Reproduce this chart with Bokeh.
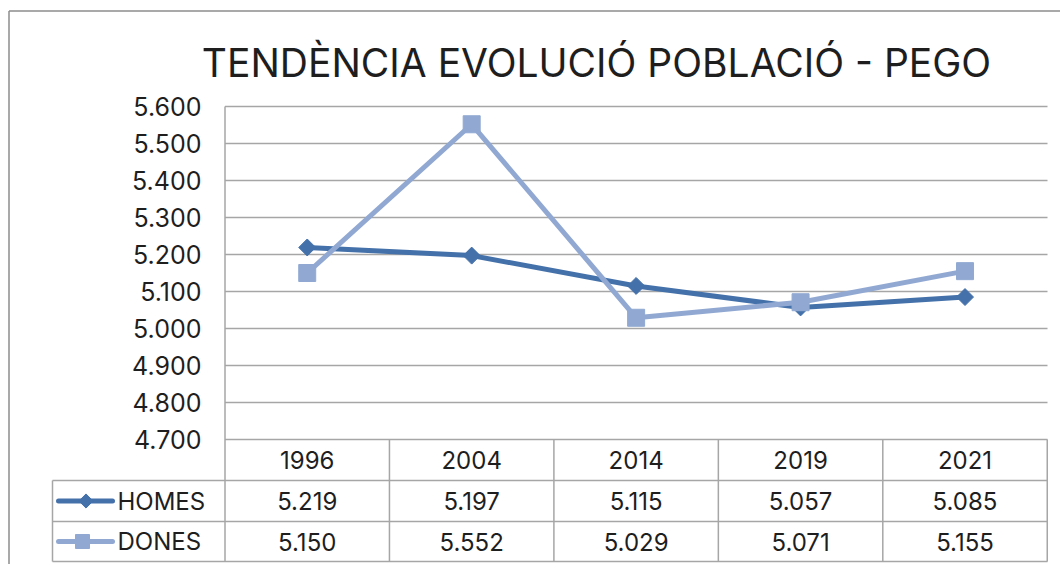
import math
from bokeh.plotting import figure
from bokeh.models import Range1d
from bokeh.core.properties import value
from bokeh.embed import file_html
from bokeh.resources import INLINE

# ---------------- data ----------------
title_text = "TENDÈNCIA EVOLUCIÓ POBLACIÓ - PEGO"
years = ["1996", "2004", "2014", "2019", "2021"]
homes = [5219, 5197, 5115, 5057, 5085]
dones = [5150, 5552, 5029, 5071, 5155]
series_names = ["HOMES", "DONES"]
y_ticks = [4700, 4800, 4900, 5000, 5100, 5200, 5300, 5400, 5500, 5600]

# ---------------- layout constants (picture pixels) ----------------
W, H = 1060, 564
PX0, PY0 = 0, 0
AXIS_X = 224.5
COL_W = 164.45
Y_BASE, Y_TOP = 4700, 5600
PY_BASE, PY_TOP = 439, 106
SCALE = (PY_BASE - PY_TOP) / (Y_TOP - Y_BASE)
ROW_LINES = [480, 521, 561]
LEG_LEFT = 52

C_HOMES = "#4471AA"
C_DONES = "#91A9D2"
GRID = "#A6A6A6"
BORDER = "#8C8C8C"
TXT = "#1E1E1E"
FONT = value("Inter")


def xd(px):
    return (px - (AXIS_X + COL_W / 2)) / COL_W


def yd(py):
    return Y_BASE + (PY_BASE - py) / SCALE


def fmt(v):
    return f"{v:,}".replace(",", ".")


p = figure(width=W, height=H,
           x_range=Range1d(xd(PX0), xd(PX0 + W)),
           y_range=Range1d(yd(PY0 + H), yd(PY0)),
           output_backend="svg", toolbar_location=None,
           x_axis_location=None, y_axis_location=None,
           min_border=0, title=None)
p.grid.visible = False
p.outline_line_color = None
p.background_fill_color = "white"
p.border_fill_color = "white"

idx = list(range(len(years)))
x_right = xd(1047)

# outer chart border
p.segment(x0=[xd(8.5), xd(8.5)], y0=[yd(10.5), yd(10.5)],
          x1=[xd(8.5), xd(1100)], y1=[yd(600), yd(10.5)],
          line_color=BORDER, line_width=1.5)

# gridlines
p.segment(x0=[xd(AXIS_X)] * len(y_ticks), y0=y_ticks,
          x1=[x_right] * len(y_ticks), y1=y_ticks,
          line_color=GRID, line_width=1.5)

# vertical axis line through the table
p.segment(x0=[xd(AXIS_X)], y0=[Y_TOP], x1=[xd(AXIS_X)], y1=[yd(ROW_LINES[-1])],
          line_color=GRID, line_width=1.5)

# table row lines
p.segment(x0=[xd(LEG_LEFT)] * 3, y0=[yd(r) for r in ROW_LINES],
          x1=[x_right] * 3, y1=[yd(r) for r in ROW_LINES],
          line_color=GRID, line_width=1.5)
# left of legend column
p.segment(x0=[xd(LEG_LEFT)], y0=[yd(ROW_LINES[0])], x1=[xd(LEG_LEFT)], y1=[yd(ROW_LINES[-1])],
          line_color=GRID, line_width=1.5)
# column separators
p.segment(x0=[i + 0.5 for i in idx], y0=[Y_BASE] * len(idx),
          x1=[i + 0.5 for i in idx], y1=[yd(ROW_LINES[-1])] * len(idx),
          line_color=GRID, line_width=1.5)

# y tick labels
p.text(x=[xd(201)] * len(y_ticks), y=y_ticks, text=[fmt(v) for v in y_ticks],
       text_align="right", text_baseline="middle", text_font=FONT,
       text_font_size="25px", text_color=TXT)

# title
p.text(x=[xd(596)], y=[yd(62)], text=[title_text], text_align="center",
       text_baseline="middle", text_font=FONT, text_font_size="39px", text_color=TXT)

# table content
row_hdr = yd((PY_BASE + ROW_LINES[0]) / 2)
row_h = yd((ROW_LINES[0] + ROW_LINES[1]) / 2)
row_d = yd((ROW_LINES[1] + ROW_LINES[2]) / 2)
p.text(x=idx, y=[row_hdr] * 5, text=years, text_align="center", text_baseline="middle",
       text_font=FONT, text_font_size="24px", text_color=TXT)
p.text(x=idx, y=[row_h] * 5, text=[fmt(v) for v in homes], text_align="center",
       text_baseline="middle", text_font=FONT, text_font_size="24px", text_color=TXT)
p.text(x=idx, y=[row_d] * 5, text=[fmt(v) for v in dones], text_align="center",
       text_baseline="middle", text_font=FONT, text_font_size="24px", text_color=TXT)

# legend keys in table
p.line(x=[xd(58), xd(112)], y=[row_h, row_h], line_color=C_HOMES, line_width=5, line_cap="round")
p.scatter(x=[xd(85.5)], y=[row_h], marker="square", angle=math.pi / 4, size=10,
          fill_color=C_HOMES, line_color=C_HOMES)
p.line(x=[xd(58), xd(112)], y=[row_d, row_d], line_color=C_DONES, line_width=5, line_cap="round")
p.scatter(x=[xd(82)], y=[row_d], marker="square", size=14,
          fill_color=C_DONES, line_color=C_DONES)
p.text(x=[xd(117)] * 2, y=[row_h, row_d], text=series_names, text_align="left",
       text_baseline="middle", text_font=FONT, text_font_size="24px", text_color=TXT)

# series
p.line(x=idx, y=homes, line_color=C_HOMES, line_width=5)
p.scatter(x=idx, y=homes, marker="square", angle=math.pi / 4, size=12,
          fill_color=C_HOMES, line_color=C_HOMES)
p.line(x=idx, y=dones, line_color=C_DONES, line_width=5)
p.scatter(x=idx, y=dones, marker="square", size=17,
          fill_color=C_DONES, line_color=C_DONES)

open("out.html", "w").write(file_html(p, INLINE))
